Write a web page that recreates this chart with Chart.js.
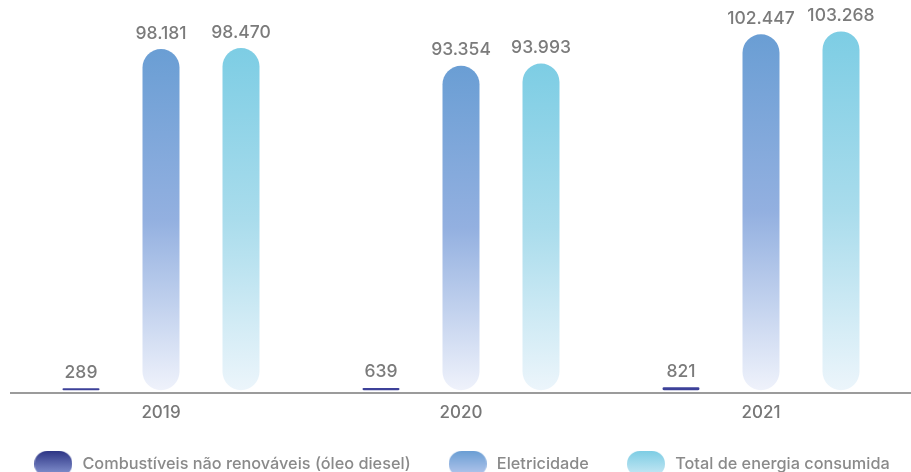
<!DOCTYPE html>
<html>
<head>
<meta charset="utf-8">
<script src="https://cdn.jsdelivr.net/npm/chart.js@4/dist/chart.umd.min.js"></script>
<style>
  html, body { margin: 0; padding: 0; background: #fff; overflow: hidden; }
</style>
</head>
<body>
<canvas id="chartEnergia" width="911" height="482"></canvas>
<script>
var anos = ["2019", "2020", "2021"];
var diesel = [289, 639, 821];
var eletricidade = [98181, 93354, 102447];
var total = [98470, 93993, 103268];
var nomes = ["Combustíveis não renováveis (óleo diesel)", "Eletricidade", "Total de energia consumida"];

var fonte = "Inter, 'Noto Sans', sans-serif";

function fmt(v) {
    return String(v).replace(/\B(?=(\d{3})+(?!\d))/g, ".");
}

// degrade vertical de cada barra, do topo ate a base
function degrade(cTop, cMid, cBase) {
    return function(context) {
        var chart = context.chart;
        if (!chart.chartArea || !chart.scales.y) return cTop;
        var y = chart.scales.y;
        var yTop = y.getPixelForValue(context.raw);
        var yBase = y.getPixelForValue(0);
        if (!isFinite(yTop) || yBase - yTop < 10) return cTop;
        var g = chart.ctx.createLinearGradient(0, yTop, 0, yBase);
        g.addColorStop(0, cTop);
        g.addColorStop(0.5, cMid);
        g.addColorStop(1, cBase);
        return g;
    };
}

function pilula(cTop, cBase) {
    var c = document.createElement("canvas");
    c.width = 38;
    c.height = 26;
    var x = c.getContext("2d");
    var g = x.createLinearGradient(0, 0, 0, 26);
    g.addColorStop(0, cTop);
    g.addColorStop(1, cBase);
    x.fillStyle = g;
    x.beginPath();
    x.roundRect(0, 0, 38, 26, 13);
    x.fill();
    return c;
}

var swatches = [
    pilula("#2d3585", "#8c9bd6"),
    pilula("#6a9ed4", "#b9c9ee"),
    pilula("#7dcde4", "#cbe9f5")
];

var rotulos = {
    id: "rotulos",
    afterDatasetsDraw: function(chart) {
        var ctx = chart.ctx;
        ctx.save();
        ctx.font = "500 17.5px " + fonte;
        ctx.fillStyle = "#7b7b7b";
        ctx.textAlign = "center";
        ctx.textBaseline = "bottom";
        chart.data.datasets.forEach(function(ds, i) {
            var meta = chart.getDatasetMeta(i);
            meta.data.forEach(function(bar, j) {
                ctx.fillText(fmt(ds.data[j]), bar.x, bar.y - 7);
            });
        });
        ctx.restore();
    }
};

var chartEnergia = new Chart(document.getElementById("chartEnergia"), {
    type: 'bar',
    data: {
        labels: anos,
        datasets: [{
            label: nomes[0],
            backgroundColor: '#3d4199',
            data: diesel,
            minBarLength: 2
        }, {
            label: nomes[1],
            backgroundColor: degrade('#6a9ed4', '#93b0e0', '#eff2fb'),
            data: eletricidade
        }, {
            label: nomes[2],
            backgroundColor: degrade('#7dcde4', '#a9dcec', '#ecf5fb'),
            data: total
        }]
    },
    options: {
        responsive: false,
        animation: false,
        layout: {
            padding: { left: 11, right: 0, top: 8, bottom: 0 }
        },
        datasets: {
            bar: {
                categoryPercentage: 0.8,
                barPercentage: 0.4625,
                borderRadius: 20,
                borderSkipped: false
            }
        },
        scales: {
            x: {
                grid: { display: false, drawTicks: false },
                border: { display: true, color: '#9b9b9b', width: 2 },
                ticks: {
                    color: '#777',
                    padding: 9,
                    font: { family: fonte, size: 17, weight: 500 }
                },
                afterFit: function(scale) {
                    // espaco entre os anos e a legenda
                    scale.height += 14;
                }
            },
            y: {
                display: false,
                min: -900,
                max: 110000
            }
        },
        plugins: {
            tooltip: { enabled: false },
            legend: {
                position: 'bottom',
                labels: {
                    color: '#8a8a8a',
                    font: { family: fonte, size: 16.3, weight: 500 },
                    usePointStyle: true,
                    pointStyleWidth: 42,
                    padding: 10,
                    generateLabels: function(chart) {
                        var items = Chart.defaults.plugins.legend.labels.generateLabels(chart);
                        items.forEach(function(it, i) {
                            it.pointStyle = swatches[i];
                            // espaco extra entre os itens da legenda
                            if (i < items.length - 1) it.text = it.text + "      ";
                        });
                        return items;
                    }
                }
            }
        }
    },
    plugins: [rotulos]
});
</script>
</body>
</html>
